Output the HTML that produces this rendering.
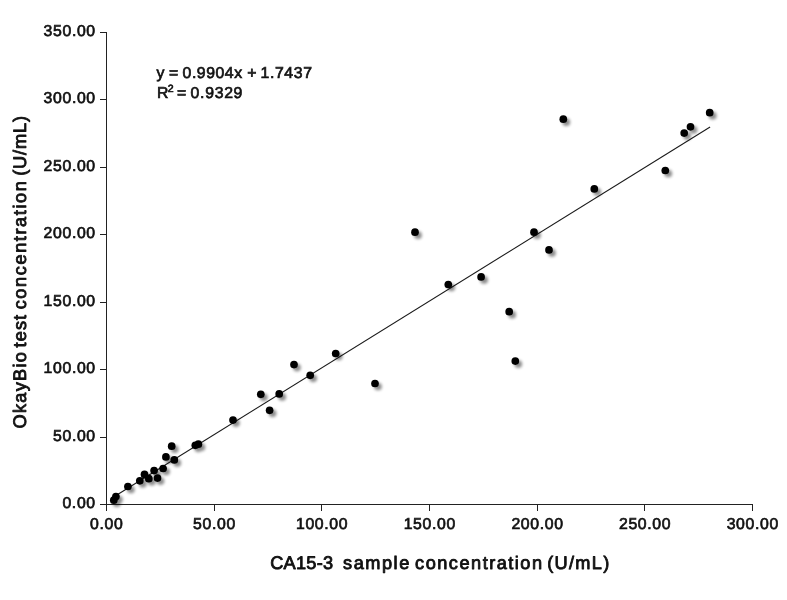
<!DOCTYPE html>
<html lang="en">
<head>
<meta charset="utf-8">
<title>CA15-3 correlation</title>
<style>
html,body{margin:0;padding:0;background:#fff;}
body{width:787px;height:600px;overflow:hidden;}
svg{display:block;}
text{text-rendering:geometricPrecision;font-family:"Liberation Sans","Noto Sans CJK SC",sans-serif;fill:#111;stroke:#111;stroke-width:0.68px;}
.tick{font-size:15.8px;}
.ttl{font-size:18.2px;stroke-width:0.85px;stroke-linejoin:round;}
.eq{font-size:15.8px;}
.ax{stroke:#222;stroke-width:1;fill:none;shape-rendering:crispEdges;}
</style>
</head>
<body>
<svg width="787" height="600" viewBox="0 0 787 600">
<defs>
<filter id="sh" x="-50%" y="-50%" width="250%" height="250%">
<feGaussianBlur in="SourceAlpha" stdDeviation="1.6" result="b"/>
<feOffset in="b" dx="2.9" dy="2.9" result="o"/>
<feComponentTransfer in="o" result="s"><feFuncA type="linear" slope="0.45"/></feComponentTransfer>
<feMerge><feMergeNode in="s"/><feMergeNode in="SourceGraphic"/></feMerge>
</filter>
</defs>
<rect x="0" y="0" width="787" height="600" fill="#ffffff"/>

<g class="ax">
<line x1="106.5" y1="32" x2="106.5" y2="511"/>
<line x1="100" y1="504.5" x2="753" y2="504.5"/>
<line x1="100" y1="437.5" x2="107" y2="437.5"/>
<line x1="100" y1="369.5" x2="107" y2="369.5"/>
<line x1="100" y1="302.5" x2="107" y2="302.5"/>
<line x1="100" y1="234.5" x2="107" y2="234.5"/>
<line x1="100" y1="167.5" x2="107" y2="167.5"/>
<line x1="100" y1="99.5" x2="107" y2="99.5"/>
<line x1="100" y1="32.5" x2="107" y2="32.5"/>
<line x1="214.5" y1="504" x2="214.5" y2="511"/>
<line x1="321.5" y1="504" x2="321.5" y2="511"/>
<line x1="429.5" y1="504" x2="429.5" y2="511"/>
<line x1="537.5" y1="504" x2="537.5" y2="511"/>
<line x1="644.5" y1="504" x2="644.5" y2="511"/>
<line x1="752.5" y1="504" x2="752.5" y2="511"/>
</g>
<text class="tick" x="95.8" y="508.05" text-anchor="end" letter-spacing="0.65">0.00</text>
<text class="tick" x="95.8" y="440.62" text-anchor="end" letter-spacing="0.65">50.00</text>
<text class="tick" x="95.8" y="373.19" text-anchor="end" letter-spacing="0.65">100.00</text>
<text class="tick" x="95.8" y="305.76" text-anchor="end" letter-spacing="0.65">150.00</text>
<text class="tick" x="95.8" y="238.34" text-anchor="end" letter-spacing="0.65">200.00</text>
<text class="tick" x="95.8" y="170.91" text-anchor="end" letter-spacing="0.65">250.00</text>
<text class="tick" x="95.8" y="103.48" text-anchor="end" letter-spacing="0.65">300.00</text>
<text class="tick" x="95.8" y="36.05" text-anchor="end" letter-spacing="0.65">350.00</text>
<text class="tick" x="106.8" y="529.1" text-anchor="middle" letter-spacing="0.65">0.00</text>
<text class="tick" x="214.5" y="529.1" text-anchor="middle" letter-spacing="0.65">50.00</text>
<text class="tick" x="322.1" y="529.1" text-anchor="middle" letter-spacing="0.65">100.00</text>
<text class="tick" x="429.8" y="529.1" text-anchor="middle" letter-spacing="0.65">150.00</text>
<text class="tick" x="537.5" y="529.1" text-anchor="middle" letter-spacing="0.65">200.00</text>
<text class="tick" x="645.1" y="529.1" text-anchor="middle" letter-spacing="0.65">250.00</text>
<text class="tick" x="752.8" y="529.1" text-anchor="middle" letter-spacing="0.65">300.00</text>
<text class="ttl" x="270.20" y="569.4" textLength="62.90" lengthAdjust="spacing">CA15-3</text>
<text class="ttl" x="343.10" y="569.4" textLength="66.20" lengthAdjust="spacing">sample</text>
<text class="ttl" x="415.10" y="569.4" textLength="127.00" lengthAdjust="spacing">concentration</text>
<text class="ttl" x="547.20" y="569.4" textLength="62.00" lengthAdjust="spacing">(U/mL)</text>
<text class="ttl" transform="translate(25.6,428.40) rotate(-90)" x="0" y="0" textLength="76.20" lengthAdjust="spacing">OkayBio</text>
<text class="ttl" transform="translate(25.6,347.40) rotate(-90)" x="0" y="0" textLength="32.50" lengthAdjust="spacing">test</text>
<text class="ttl" transform="translate(25.6,309.30) rotate(-90)" x="0" y="0" textLength="128.20" lengthAdjust="spacing">concentration</text>
<text class="ttl" transform="translate(25.6,175.80) rotate(-90)" x="0" y="0" textLength="59.80" lengthAdjust="spacing">(U/mL)</text>
<text class="eq" y="77.8" letter-spacing="0.4"><tspan x="156.4">y</tspan><tspan x="169.0">=</tspan><tspan x="182.6" letter-spacing="0.55">0.9904x</tspan><tspan x="247.3">+</tspan><tspan x="260.5" letter-spacing="0.63">1.7437</tspan></text>
<text class="eq" y="97.9" letter-spacing="0.45"><tspan x="156.9">R</tspan><tspan x="167.7" font-size="10.5px" dy="-6.2">2</tspan><tspan x="177.0" dy="6.2">=</tspan><tspan x="190.6" letter-spacing="0.7">0.9329</tspan></text>
<line x1="114.0" y1="496.7" x2="710.1" y2="127.0" stroke="#1a1a1a" stroke-width="1.1"/>
<g fill="#000" filter="url(#sh)">
<circle cx="113.8" cy="500.2" r="3.85"/>
<circle cx="115.9" cy="496.6" r="3.85"/>
<circle cx="127.9" cy="486.5" r="3.85"/>
<circle cx="139.8" cy="480.8" r="3.85"/>
<circle cx="144.5" cy="474.4" r="3.85"/>
<circle cx="148.8" cy="478.7" r="3.85"/>
<circle cx="154.1" cy="470.6" r="3.85"/>
<circle cx="157.5" cy="478.1" r="3.85"/>
<circle cx="163.1" cy="468.5" r="3.85"/>
<circle cx="165.9" cy="456.9" r="3.85"/>
<circle cx="171.7" cy="446.2" r="3.85"/>
<circle cx="174.3" cy="459.9" r="3.85"/>
<circle cx="195.3" cy="445.3" r="3.85"/>
<circle cx="198.4" cy="444.2" r="3.85"/>
<circle cx="233.0" cy="420.1" r="3.85"/>
<circle cx="260.8" cy="394.3" r="3.85"/>
<circle cx="269.6" cy="410.3" r="3.85"/>
<circle cx="279.2" cy="393.9" r="3.85"/>
<circle cx="294.0" cy="364.6" r="3.85"/>
<circle cx="310.2" cy="375.3" r="3.85"/>
<circle cx="335.7" cy="353.5" r="3.85"/>
<circle cx="375.0" cy="383.5" r="3.85"/>
<circle cx="415.0" cy="232.2" r="3.85"/>
<circle cx="448.3" cy="284.5" r="3.85"/>
<circle cx="481.1" cy="276.9" r="3.85"/>
<circle cx="534.0" cy="232.2" r="3.85"/>
<circle cx="549.0" cy="249.9" r="3.85"/>
<circle cx="563.3" cy="119.2" r="3.85"/>
<circle cx="594.3" cy="188.9" r="3.85"/>
<circle cx="509.2" cy="311.7" r="3.85"/>
<circle cx="515.3" cy="361.1" r="3.85"/>
<circle cx="665.3" cy="170.5" r="3.85"/>
<circle cx="684.2" cy="133.1" r="3.85"/>
<circle cx="690.5" cy="126.8" r="3.85"/>
<circle cx="709.7" cy="112.7" r="3.85"/>
</g>
</svg>
</body>
</html>
